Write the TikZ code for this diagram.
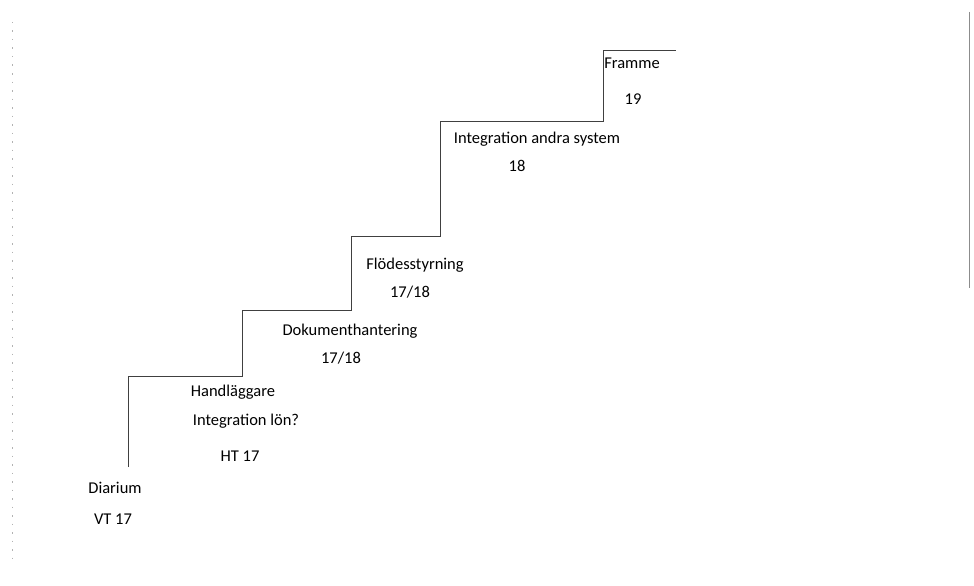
\documentclass[tikz,border=0pt]{standalone}
\usepackage{fontspec}
\setmainfont{Carlito}
\usepackage{xcolor}
\usetikzlibrary{positioning}
\tikzset{
  stair/.style   = {draw=black!75, line width=0.9pt, line join=miter},
  lbl/.style     = {inner sep=0pt, anchor=center, text=black,
                    font=\fontsize{16.5}{19}\selectfont},
  edge/.style    = {draw=black!45, line width=0.8pt},
  fleck/.style   = {draw=black!30, line width=0.8pt,
                    dash pattern=on 1.5pt off 7pt},
}

\begin{document}
\begin{tikzpicture}[x=1pt, y=-1pt]
  \useasboundingbox (0,0) rectangle (974,586);

  % ---- staircase ----
  \draw[stair] (128,467) -- (128,376) -- (242,376) -- (242,310)
               -- (351,310) -- (351,236) -- (440,236) -- (440,121)
               -- (603,121) -- (603,50) -- (676,50);

  % ---- steps ----
  \node[lbl] (diarium)   at (115,488) {Diarium};
  \node[lbl] (diariumyr) at (113,519) {VT 17};

  \node[lbl] (handl)     at (233,392) {Handläggare};
  \node[lbl] (handlint)  at (246,421) {Integration lön?};
  \node[lbl] (handlyr)   at (240,456) {HT 17};

  \node[lbl] (dok)       at (350,331) {Dokumenthantering};
  \node[lbl] (dokyr)     at (341,358) {17/18};

  \node[lbl] (flode)     at (415,265) {Flödesstyrning};
  \node[lbl] (flodeyr)   at (410,292) {17/18};

  \node[lbl] (integ)     at (537,139) {Integration andra system};
  \node[lbl] (integyr)   at (517,166) {18};

  \node[lbl] (framme)    at (632,63)  {Framme};
  \node[lbl] (frammeyr)  at (633,99)  {19};

  % page edges
  \draw[fleck] (12,22) -- (12,566);
  \draw[edge]  (969,12) -- (969,288);
\end{tikzpicture}
\end{document}
